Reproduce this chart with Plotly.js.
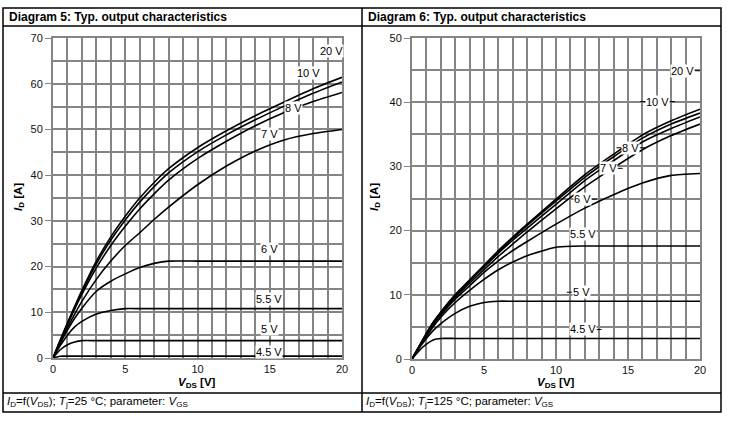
<!DOCTYPE html>
<html>
<head>
<meta charset="utf-8">
<script src="https://cdn.plot.ly/plotly-3.0.1.min.js"></script>
<style>html,body{margin:0;padding:0;background:#fff;}#chart{width:731px;height:423px;}</style>
</head>
<body>
<div id="chart"></div>
<script>
// ---- Data ----
var vds = [0,0.5,1,1.5,2,3,4,5,6,7,8,10,12,14,16,18,20];
var vgsLabels = ["20 V","10 V","8 V","7 V","6 V","5.5 V","5 V","4.5 V"];

// Diagram 5: Tj = 25 °C
var id25_20  = [0,3.9,7.7,11.3,14.8,21.2,26.5,31.0,35.0,38.4,41.4,46.0,49.7,53.0,56.0,58.9,61.4];
var id25_10  = [0,3.8,7.5,11.0,14.4,20.6,25.8,30.2,34.1,37.5,40.5,45.1,48.8,52.1,55.1,57.9,60.4];
var id25_8   = [0,3.7,7.3,10.7,13.9,19.7,24.6,28.8,32.6,35.9,38.9,43.6,47.4,50.8,53.7,56.1,58.1];
var id25_7   = [0,3.4,6.6,9.6,12.4,17.2,21.2,24.6,27.4,30.3,33.0,37.9,42.0,45.3,47.7,49.1,50.0];
var id25_6   = [0,3.2,6.1,8.7,10.9,14.6,16.8,18.4,19.8,20.7,21.2,21.2,21.2,21.2,21.2,21.2,21.2];
var id25_55  = [0,2.7,5.0,6.8,8.0,9.6,10.4,10.8,10.8,10.8,10.8,10.8,10.8,10.8,10.8,10.8,10.8];
var id25_5   = [0,1.8,2.9,3.5,3.8,3.8,3.8,3.8,3.8,3.8,3.8,3.8,3.8,3.8,3.8,3.8,3.8];
var id25_45  = [0,0.4,0.4,0.4,0.4,0.4,0.4,0.4,0.4,0.4,0.4,0.4,0.4,0.4,0.4,0.4,0.4];
var lab25X = [19.24,17.66,16.62,14.95,14.95,14.95,14.95,14.95];
var lab25Y = [67.2,62.4,54.6,48.9,23.8,12.9,6.3,1.4];

// Diagram 6: Tj = 125 °C
var id125_20 = [0,2.0,4.0,5.8,7.3,10.0,12.3,14.6,16.9,19.0,21.0,24.9,28.7,31.9,34.9,37.1,38.9];
var id125_10 = [0,2.0,4.0,5.8,7.3,10.0,12.3,14.5,16.7,18.8,20.8,24.6,28.3,31.5,34.4,36.6,38.3];
var id125_8  = [0,2.0,3.9,5.7,7.2,9.8,12.1,14.3,16.5,18.5,20.4,24.1,27.8,30.9,33.8,35.9,37.7];
var id125_7  = [0,1.9,3.8,5.6,7.0,9.6,11.8,13.9,16.0,17.9,19.8,23.4,26.8,29.8,32.6,34.8,36.6];
var id125_6  = [0,1.9,3.7,5.4,6.8,9.3,11.4,13.5,15.3,16.9,18.3,21.0,23.5,25.6,27.4,28.6,28.9];
var id125_55 = [0,1.8,3.5,5.1,6.5,8.8,10.7,12.4,13.9,15.1,16.1,17.4,17.6,17.6,17.6,17.6,17.6];
var id125_5  = [0,1.7,3.2,4.5,5.5,7.1,8.2,8.8,9.0,9.0,9.0,9.0,9.0,9.0,9.0,9.0,9.0];
var id125_45 = [0,1.3,2.3,3.0,3.2,3.2,3.2,3.2,3.2,3.2,3.2,3.2,3.2,3.2,3.2,3.2,3.2];
var lab125X = [18.8,17.06,15.19,13.64,11.85,11.85,11.74,11.85];
var lab125Y = [44.9,40.1,32.9,29.7,24.9,19.4,10.4,4.6];
// leader dashes beside the right-panel labels: [left, right]
var lab125Dash = [[0,1],[1,1],[1,1],[0,1],[0,1],[0,0],[1,0],[0,1]];

// ---- Build ----
var W = 731, H = 423;
function px(x){return x/W;}
function py(y){return 1 - y/H;}
var FONT = "Liberation Sans, Arial, sans-serif";
var GRID = "#858585";

var set25 = [id25_20,id25_10,id25_8,id25_7,id25_6,id25_55,id25_5,id25_45];
var set125 = [id125_20,id125_10,id125_8,id125_7,id125_6,id125_55,id125_5,id125_45];
var traces = [];
set25.forEach(function(s,i){
  traces.push({x:vds,y:s,type:'scatter',mode:'lines',line:{color:'#000',width:1.6,shape:'spline',smoothing:0.6},xaxis:'x',yaxis:'y',hoverinfo:'skip',name:vgsLabels[i]});
});
set125.forEach(function(s,i){
  traces.push({x:vds,y:s,type:'scatter',mode:'lines',line:{color:'#000',width:1.6,shape:'spline',smoothing:0.6},xaxis:'x2',yaxis:'y2',hoverinfo:'skip',name:vgsLabels[i]});
});

function xax(dom,anchor){
  return {domain:dom,anchor:anchor,range:[0,20],tickvals:[0,5,10,15,20],ticks:'',
    showgrid:true,gridcolor:GRID,gridwidth:2,zeroline:false,showline:true,linecolor:GRID,linewidth:2,mirror:true,
    minor:{dtick:1,showgrid:true,gridcolor:GRID,gridwidth:2,ticks:''},
    tickfont:{family:FONT,size:11,color:'#111'},fixedrange:true};
}
function yax(dom,anchor,max){
  return {domain:dom,anchor:anchor,range:[0,max],dtick:10,ticks:'outside',ticklen:6,tickwidth:1,tickcolor:GRID,
    showgrid:true,gridcolor:GRID,gridwidth:2,zeroline:false,showline:true,linecolor:GRID,linewidth:2,mirror:true,
    minor:{dtick:5,showgrid:true,gridcolor:GRID,gridwidth:2,ticks:''},
    tickfont:{family:FONT,size:11,color:'#111'},fixedrange:true};
}

var annotations = [];
var shapes = [];
function textW(t){ // approx pixel width at 11px
  var w=0; for (var c of t){ w += (c===' ')?3.1:(c==='.')?3.1:(c==='V')?7.3:6.1; } return w;
}
var xPerPx = 20/288;
vgsLabels.forEach(function(t,i){
  annotations.push({xref:'x',yref:'y',x:lab25X[i],y:lab25Y[i],text:t,showarrow:false,bgcolor:'#fff',borderpad:0,xanchor:'center',yanchor:'middle',font:{family:FONT,size:11,color:'#000'}});
  annotations.push({xref:'x2',yref:'y2',x:lab125X[i],y:lab125Y[i],text:t,showarrow:false,bgcolor:'#fff',borderpad:0,xanchor:'center',yanchor:'middle',font:{family:FONT,size:11,color:'#000'}});
  var hw = (textW(t)/2+1)*xPerPx, dl = 5*xPerPx;
  if (lab125Dash[i][0]) shapes.push({type:'line',xref:'x2',yref:'y2',x0:lab125X[i]-hw-dl,x1:lab125X[i]-hw,y0:lab125Y[i],y1:lab125Y[i],line:{color:'#000',width:1},layer:'above'});
  if (lab125Dash[i][1]) shapes.push({type:'line',xref:'x2',yref:'y2',x0:lab125X[i]+hw,x1:Math.min(20,lab125X[i]+hw+dl),y0:lab125Y[i],y1:lab125Y[i],line:{color:'#000',width:1},layer:'above'});
});
function pa(x,y,text,opts){
  var a = {xref:'paper',yref:'paper',x:px(x),y:py(y),text:text,showarrow:false,xanchor:'center',yanchor:'middle',font:{family:FONT,size:11,color:'#000'}};
  for (var k in opts) a[k]=opts[k];
  return a;
}
annotations.push(pa(7,17,"<b>Diagram 5: Typ. output characteristics</b>",{xanchor:'left',font:{family:FONT,size:12,color:'#000'}}));
annotations.push(pa(366,17,"<b>Diagram 6: Typ. output characteristics</b>",{xanchor:'left',font:{family:FONT,size:12,color:'#000'}}));
annotations.push(pa(197,383,"<b><i>V</i><sub>DS</sub> [V]</b>",{font:{family:FONT,size:11.5,color:'#000'}}));
annotations.push(pa(556,383,"<b><i>V</i><sub>DS</sub> [V]</b>",{font:{family:FONT,size:11.5,color:'#000'}}));
annotations.push(pa(19,197,"<b><i>I</i><sub>D</sub> [A]</b>",{textangle:-90,font:{family:FONT,size:11.5,color:'#000'}}));
annotations.push(pa(375,197,"<b><i>I</i><sub>D</sub> [A]</b>",{textangle:-90,font:{family:FONT,size:11.5,color:'#000'}}));
annotations.push(pa(5,402,"<i>I</i><sub>D</sub>=f(<i>V</i><sub>DS</sub>); <i>T</i><sub>j</sub>=25 °C; parameter: <i>V</i><sub>GS</sub>",{xanchor:'left',font:{family:FONT,size:11.5,color:'#000'}}));
annotations.push(pa(364,402,"<i>I</i><sub>D</sub>=f(<i>V</i><sub>DS</sub>); <i>T</i><sub>j</sub>=125 °C; parameter: <i>V</i><sub>GS</sub>",{xanchor:'left',font:{family:FONT,size:11.5,color:'#000'}}));

shapes.push(
  {type:'rect',xref:'paper',yref:'paper',x0:px(3),x1:px(721),y0:py(8),y1:py(412),line:{color:'#000',width:1.5}},
  {type:'line',xref:'paper',yref:'paper',x0:px(362),x1:px(362),y0:py(8),y1:py(412),line:{color:'#000',width:1.5}},
  {type:'line',xref:'paper',yref:'paper',x0:px(3),x1:px(721),y0:py(26),y1:py(26),line:{color:'#000',width:1.5}},
  {type:'line',xref:'paper',yref:'paper',x0:px(3),x1:px(721),y0:py(393),y1:py(393),line:{color:'#000',width:1.5}}
);

var layout = {
  width:W,height:H,margin:{l:0,r:0,t:0,b:0},paper_bgcolor:'#fff',plot_bgcolor:'#fff',showlegend:false,
  font:{family:FONT},
  xaxis:xax([px(53),px(342)],'y'),
  yaxis:yax([py(358),py(38)],'x',70),
  xaxis2:xax([px(412),px(700)],'y2'),
  yaxis2:yax([py(359),py(38)],'x2',50),
  annotations:annotations,shapes:shapes
};
Plotly.newPlot('chart',traces,layout,{displayModeBar:false,staticPlot:true});
</script>
</body>
</html>
